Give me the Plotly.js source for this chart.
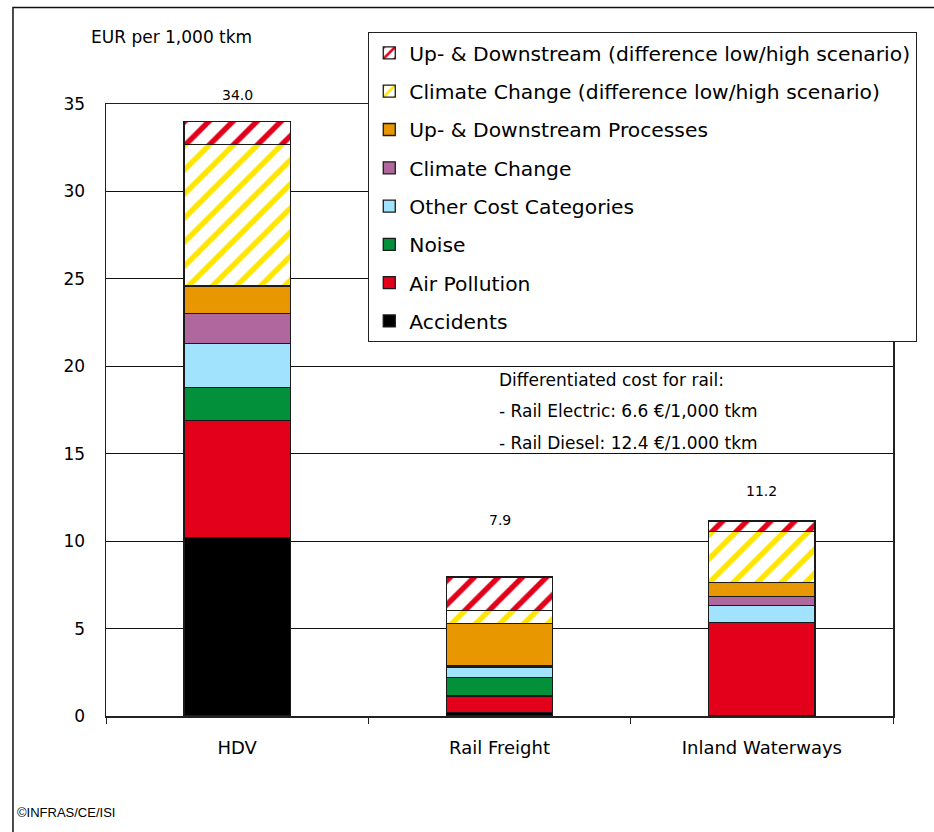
<!DOCTYPE html>
<html>
<head>
<meta charset="utf-8">
<script src="https://cdn.plot.ly/plotly-3.0.1.min.js"></script>
<style>html,body{margin:0;padding:0;background:#fff;}#chart{width:934px;height:832px;}</style>
</head>
<body>
<div id="chart"></div>
<script>
// ---- data ----
const categories = ['HDV', 'Rail Freight', 'Inland Waterways'];
const accidents = [10.2, 0.2, 0];
const airPollution = [6.7, 0.95, 5.35];
const noise = [1.9, 1.05, 0];
const otherCosts = [2.5, 0.6, 0.95];
const climateChange = [1.7, 0.1, 0.55];
const upDownstream = [1.6, 2.4, 0.8];
const climateDiff = [8.1, 0.75, 2.9];
const upDownDiff = [1.3, 1.9, 0.6];
const totalLabels = ['34.0', '7.9', '11.2'];
const seriesNames = [
  'Accidents', 'Air Pollution', 'Noise', 'Other Cost Categories', 'Climate Change',
  'Up- &amp; Downstream Processes', 'Climate Change (difference low/high scenario)',
  'Up- &amp; Downstream (difference low/high scenario)'
];
const noteLines = ['Differentiated cost for rail:', '- Rail Electric: 6.6 €/1,000 tkm', '- Rail Diesel: 12.4 €/1.000 tkm'];

// ---- styles ----
const FONT = 'DejaVu Sans, Verdana, sans-serif';
const colors = ['#000000', '#E2001A', '#02913A', '#A1E2FD', '#AF679E', '#E99700', '#FFE600', '#E2001A'];
const hatched = [false, false, false, false, false, false, true, true];
const series = [accidents, airPollution, noise, otherCosts, climateChange, upDownstream, climateDiff, upDownDiff];

const traces = series.map((vals, i) => {
  const marker = {color: colors[i], line: {color: '#1a1a1a', width: 1.3}};
  if (hatched[i]) {
    marker.pattern = {shape: '/', fgcolor: colors[i], bgcolor: '#ffffff', size: 17, solidity: 0.32};
  }
  return {
    type: 'bar', name: seriesNames[i], x: categories, y: vals, width: 0.405,
    marker: marker, legendgroup: 'g' + i, legendrank: 100 - i, hoverinfo: 'name+y'
  };
});

const totals = categories.map((c, k) => series.reduce((s, arr) => s + arr[k], 0));
const labelShift = [26, 57, 30];
const annotations = categories.map((c, k) => ({
  x: c, y: totals[k], xref: 'x', yref: 'y', text: totalLabels[k], showarrow: false,
  yshift: labelShift[k], yanchor: 'middle', font: {family: FONT, size: 14, color: '#000'}
}));
annotations.push({
  xref: 'paper', yref: 'paper', x: 0.0826, y: 1.1095, text: 'EUR per 1,000 tkm', showarrow: false,
  xanchor: 'center', yanchor: 'middle', font: {family: FONT, size: 17, color: '#000'}
});
const noteY = [0.549, 0.498, 0.446];
noteLines.forEach((t, i) => annotations.push({
  xref: 'paper', yref: 'paper', x: 0.497, y: noteY[i], text: t, showarrow: false,
  xanchor: 'left', yanchor: 'middle', font: {family: FONT, size: 17, color: '#000'}
}));
annotations.push({
  xref: 'paper', yref: 'paper', x: -0.1156, y: -0.1569, text: '©INFRAS/CE/ISI', showarrow: false,
  xanchor: 'left', yanchor: 'middle', font: {family: 'Liberation Sans, Arial, sans-serif', size: 13, color: '#000'}
});

const layout = {
  width: 934, height: 832,
  margin: {l: 106, r: 41, t: 104, b: 116},
  paper_bgcolor: '#ffffff', plot_bgcolor: '#ffffff',
  barmode: 'stack',
  showlegend: true,
  legend: {
    x: 0.333, xanchor: 'left', y: 1.1176, yanchor: 'top',
    bgcolor: '#ffffff', bordercolor: '#222', borderwidth: 1.2,
    traceorder: 'grouped', tracegroupgap: 8.9,
    font: {family: FONT, size: 20.3, color: '#000'}
  },
  xaxis: {
    type: 'category', range: [-0.5, 2.5], tickson: 'boundaries', ticks: 'outside', ticklen: 6,
    tickcolor: '#222', showline: true, mirror: true, linecolor: '#222', linewidth: 1.5,
    showgrid: false, tickfont: {family: FONT, size: 18, color: '#000'}, ticklabelstandoff: 15
  },
  yaxis: {
    range: [0, 35], dtick: 5, showgrid: true, gridcolor: '#111', gridwidth: 1,
    showline: true, mirror: true, linecolor: '#222', linewidth: 1.5, zeroline: false,
    ticks: '', tickfont: {family: FONT, size: 17, color: '#000'}, ticklabelstandoff: 16
  },
  annotations: annotations,
  shapes: [{
    type: 'rect', xref: 'paper', yref: 'paper', x0: -0.1182, x1: 1.06, y0: -0.21, y1: 1.1577,
    line: {color: '#111', width: 1.5}, fillcolor: 'rgba(0,0,0,0)', layer: 'above'
  }]
};

Plotly.newPlot('chart', traces, layout, {displayModeBar: false, staticPlot: true});
</script>
</body>
</html>
